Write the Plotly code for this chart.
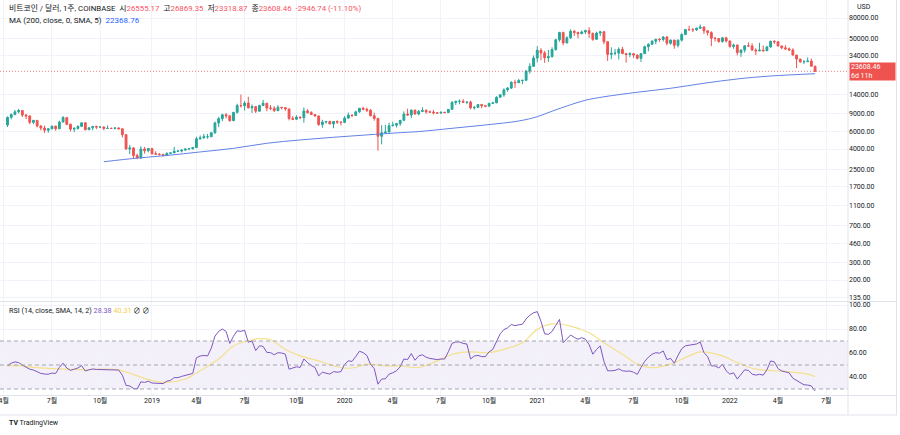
import math
import pandas as pd
import plotly.graph_objects as go

# ---------------- data (weekly, COINBASE BTC/USD) ----------------
first_week = "2018-04-09"

opens = [
    # 2018
    6920, 8250, 8800, 9350, 9650, 8700, 8530, 7360, 7700, 6770, 6450, 6150, 6350, 6750, 6360, 7400, 8200, 7030, 6300, 6400,
    6700, 7280, 6230, 6500, 6700, 6600, 6620, 6400, 6410, 6400, 6480, 6350, 5550, 4000, 4100, 3450, 3250, 4000, 3850,
    # 2019
    4050, 3590, 3550, 3540, 3450, 3620, 3660, 3800, 3820, 3900, 4000, 4030, 4130, 5050, 5150, 5300, 5300, 5800, 7250, 8000,
    8750, 8550, 7650, 9250, 10800, 10750, 11450, 10250, 10550, 9500, 10800, 11400, 10200, 10150, 9600, 10400, 10300, 10000, 8050, 7900,
    8300, 8200, 9550, 9200, 8800, 8500, 7000, 7400, 7500, 7100, 7500, 7400,
    # 2020
    7350, 8100, 8700, 8600, 9350, 10150, 9900, 9700, 8550, 8050, 5350, 5800, 5900, 6800, 6900, 7150, 7700, 8900, 8700, 9700,
    8900, 9450, 9650, 9350, 9300, 9150, 9080, 9250, 9200, 9900, 11600, 11900, 11900, 11650, 11700, 10250, 10350, 11080, 10750, 10650,
    11350, 11500, 13050, 13800, 15480, 16100, 18400, 18200, 19150, 19250, 23800, 26500,
    # 2021
    32000, 38200, 36000, 32200, 33100, 38900, 48600, 57500, 45200, 51000, 59000, 57400, 55800, 58200, 60000, 56200, 49100, 56700, 58300, 46500,
    34800, 35700, 35800, 39100, 35500, 34700, 35300, 34300, 31800, 35400, 41500, 43800, 47000, 49300, 48900, 51800, 44900, 48300, 42800, 48200,
    54700, 61500, 61300, 61100, 63300, 65000, 59700, 57300, 50400, 50100, 46700, 50800,
    # 2022
    47300, 41800, 43100, 36300, 38500, 42400, 42200, 38400, 37700, 38400, 37800, 41300, 46900, 46400, 42200, 40400, 39500, 38500, 34300, 31300,
    29400, 29450, 29900, 26555.17,
]

highs = [
    8420, 9030, 9760, 9990, 9690, 8880, 8560, 7780, 7770, 6890, 6830, 6460, 6800, 6800, 7650, 8500, 8250, 7150, 6600, 6900,
    7300, 7400, 6580, 6790, 6810, 6680, 6700, 6850, 6520, 6550, 6550, 6400, 5620, 4400, 4170, 3600, 4250, 4200, 4100,
    4100, 3800, 3640, 3560, 3700, 3720, 4200, 3900, 3950, 4050, 4080, 4150, 5300, 5450, 5650, 5650, 5900, 7500, 8350, 8950,
    9100, 8600, 9300, 11250, 13880, 12000, 13200, 11100, 10650, 11000, 12300, 11450, 10950, 10650, 10900, 10450, 10350, 10000, 8500, 8650,
    8400, 10350, 9950, 9500, 8900, 8600, 7800, 7600, 7650, 7520, 7700, 7550,
    8500, 9200, 8750, 9600, 10150, 10500, 10300, 9950, 9200, 8150, 6900, 6950, 7300, 7450, 7250, 7750, 9450, 10050, 9950, 9900,
    9750, 10400, 9950, 9650, 9750, 9300, 9450, 9350, 9950, 12000, 12050, 12450, 12500, 11750, 12100, 10700, 11150, 11100, 10950, 11500,
    11750, 13350, 14050, 15970, 16500, 18800, 19500, 19900, 19400, 24300, 28400, 34000,
    42000, 40100, 37800, 38500, 40950, 49700, 58300, 58400, 52600, 61800, 60900, 58500, 60000, 61200, 64900, 57500, 58500, 59600, 59600, 46600,
    40900, 39500, 40900, 41300, 35700, 36600, 35900, 34700, 35500, 42600, 44800, 48100, 49400, 50500, 52900, 52900, 48800, 48400, 49000, 56500,
    62000, 67000, 63700, 64300, 69000, 66300, 59900, 59100, 51900, 50400, 52000, 52100,
    47600, 44500, 43500, 38900, 42700, 45800, 44800, 40000, 45400, 42600, 42300, 47700, 48200, 47400, 42400, 42900, 40800, 40000, 34400, 31400,
    30600, 32400, 31600, 26869.35,
]

lows = [
    6620, 7870, 8650, 9030, 8300, 7920, 7050, 7060, 6550, 6120, 5760, 5800, 6250, 6070, 6300, 7400, 6900, 5970, 5880, 6250,
    6680, 6120, 6170, 6150, 6300, 6450, 6150, 6380, 6360, 6260, 6270, 5200, 3950, 3550, 3250, 3200, 3200, 3600, 3700,
    3520, 3520, 3440, 3370, 3400, 3560, 3650, 3740, 3700, 3850, 3900, 3950, 4100, 4950, 5100, 5050, 5250, 5650, 6600, 7550,
    8050, 7450, 7550, 9000, 10350, 9650, 10100, 9100, 9100, 9400, 10800, 9500, 9750, 9350, 9600, 9900, 9600, 7700, 7750, 7800,
    7900, 7300, 9000, 8700, 8400, 6800, 6500, 7150, 7050, 6430, 7100, 6850,
    7300, 8050, 8280, 8550, 9150, 9700, 9300, 8450, 7650, 3850, 4450, 5700, 5850, 6750, 6550, 6800, 7650, 8500, 8100, 8800,
    8650, 9300, 8950, 9200, 8850, 8950, 9050, 9050, 9150, 9900, 10950, 11100, 11500, 11150, 9900, 9850, 10250, 10150, 10400, 10550,
    11250, 11400, 12950, 13200, 14800, 15800, 16200, 18100, 17600, 19000, 22400, 26100,
    29000, 30400, 28700, 29200, 32300, 37900, 46500, 43000, 44900, 49300, 53100, 50300, 55500, 55500, 50600, 47500, 48800, 53000, 43900, 30000,
    31100, 34100, 31000, 34900, 28800, 32700, 32100, 31000, 29300, 35300, 37300, 43500, 43900, 46400, 46800, 42800, 43400, 39600, 40800, 46900,
    54300, 59700, 58000, 59400, 62300, 55600, 53500, 42000, 46700, 45500, 45600, 45700,
    40500, 39600, 34000, 32900, 36300, 41700, 38000, 34300, 37500, 37200, 37600, 40500, 44200, 41900, 39200, 38500, 37600, 33800, 25400, 28600,
    28000, 29300, 26500, 23318.87,
]

closes = [
    8250, 8800, 9350, 9650, 8700, 8530, 7360, 7700, 6770, 6450, 6150, 6350, 6750, 6360, 7400, 8200, 7030, 6300, 6400, 6700,
    7280, 6230, 6500, 6700, 6600, 6620, 6400, 6410, 6400, 6480, 6350, 5550, 4000, 4100, 3450, 3250, 4000, 3850, 4050,
    3590, 3550, 3540, 3450, 3620, 3660, 3800, 3820, 3900, 4000, 4030, 4130, 5050, 5150, 5300, 5300, 5800, 7250, 8000, 8750,
    8550, 7650, 9250, 10800, 10750, 11450, 10250, 10550, 9500, 10800, 11400, 10200, 10150, 9600, 10400, 10300, 10000, 8050, 7900, 8300,
    8200, 9550, 9200, 8800, 8500, 7000, 7400, 7500, 7100, 7500, 7400, 7350,
    8100, 8700, 8600, 9350, 10150, 9900, 9700, 8550, 8050, 5350, 5800, 5900, 6800, 6900, 7150, 7700, 8900, 8700, 9700, 8900,
    9450, 9650, 9350, 9300, 9150, 9080, 9250, 9200, 9900, 11600, 11900, 11900, 11650, 11700, 10250, 10350, 11080, 10750, 10650, 11350,
    11500, 13050, 13800, 15480, 16100, 18400, 18200, 19150, 19250, 23800, 26500, 32000,
    38200, 36000, 32200, 33100, 38900, 48600, 57500, 45200, 51000, 59000, 57400, 55800, 58200, 60000, 56200, 49100, 56700, 58300, 46500, 34800,
    35700, 35800, 39100, 35500, 34700, 35300, 34300, 31800, 35400, 41500, 43800, 47000, 49300, 48900, 51800, 44900, 48300, 42800, 48200, 54700,
    61500, 61300, 61100, 63300, 65000, 59700, 57300, 50400, 50100, 46700, 50800, 47300,
    41800, 43100, 36300, 38500, 42400, 42200, 38400, 37700, 38400, 37800, 41300, 46900, 46400, 42200, 40400, 39500, 38500, 34300, 31300, 29400,
    29450, 29900, 26555.17, 23608.46,
]
change_text = "-2946.74 (-11.10%)"

# MA(200) read at selected weeks (index into weekly bars)
ma200_week = [26, 35, 43, 52, 61, 70, 79, 88, 97, 106, 111, 120, 129, 138, 143, 147, 152, 156, 161, 170, 179, 188, 197, 206, 218]
ma200_val = [2990, 3250, 3450, 3740, 4060, 4560, 4920, 5230, 5520, 5810, 5960, 6420, 6930, 7590, 8370, 9500, 11000, 12200,
             13200, 14640, 16040, 17980, 19840, 21230, 22368.76]

# RSI(14) weekly values
rsi = [
    49.5, 51.5, 52.6, 52, 50, 48.5, 46.5, 45.8, 44.5, 43, 42.5, 42.3, 43.3, 43, 48, 51.5, 47.5, 45.5, 46.5, 47.5,
    49.5, 45, 46, 46.7, 46.3, 46.2, 45.8, 46, 46, 46, 45.8, 41.5, 33, 32.5, 30.5, 30, 36, 35.5, 36.5,
    35, 35, 35, 34.5, 36.5, 37.2, 39.5, 39.5, 40.5, 41.5, 42, 43, 56, 57.5, 58, 57.5, 64, 74, 78, 80,
    78, 68, 74, 78.5, 78, 79, 69, 70, 62, 66, 65.5, 60.5, 60.3, 58.5, 60.3, 60, 59, 46.5, 47.5, 48.5,
    48, 55, 52, 49.5, 48, 41, 44, 43.5, 42.4, 44.5, 44, 44.5,
    50.5, 53.5, 53, 57, 61.5, 60.3, 58, 50.5, 47, 34, 38.3, 38.5, 42.4, 43.5, 45.2, 48.5, 55, 54.5, 59.5, 54,
    57.6, 58.5, 56.5, 55.5, 55, 54.5, 55, 55, 61, 68, 69.2, 69.2, 68, 67.5, 55, 57.5, 58, 57, 57, 61,
    63, 70, 76, 79.5, 81, 83.8, 82.8, 83.5, 84, 88.5, 91.5, 93.5,
    94.5, 86.5, 76, 75.5, 78, 83, 88, 68.6, 71.5, 75, 73, 71.4, 72.8, 71.5, 67, 59, 63, 65.9, 53, 45.2,
    45.2, 45.5, 46.8, 45.2, 44.8, 45, 44, 42.2, 47.9, 53, 56.5, 59, 60.3, 59.8, 61.7, 54.5, 55.5, 51.5, 58, 63.5,
    66, 66.5, 66.8, 67.5, 69.2, 60.3, 57, 49.3, 49.3, 47.5, 50.7, 45.2,
    42.4, 43.5, 38.3, 42, 46, 45.5, 42.4, 41.6, 42.2, 41.6, 46, 53.4, 52.6, 47, 45, 44.3, 43.5, 39, 37, 35,
    33.5, 33.3, 32.5, 28.38,
]

# RSI-based MA read at selected weeks
rsi_ma_week = [0, 3, 7, 12, 16, 21, 25, 30, 34, 39, 43, 48, 52, 57, 61, 65, 68, 71, 75, 79, 84, 88, 91, 94, 97, 102,
               106, 111, 116, 120, 125, 130, 134, 139, 143, 147, 152, 157, 161, 166, 170, 173, 175, 179, 184, 187, 193,
               197, 202, 207, 211, 216, 218]
rsi_ma_val = [49.3, 49.5, 48, 47, 46.5, 46, 46.5, 46, 42, 37, 35.5, 38.3, 45.2, 55, 65.9, 70, 72, 71, 63, 57.6, 53.4,
              49.3, 47.4, 47.9, 50.7, 49.3, 49.3, 47.9, 53.4, 59, 60.9, 60.3, 63.1, 68.6, 79.7, 84.3, 82.4, 76.9, 68.6,
              59, 50.7, 48, 47.9, 50.7, 57.6, 60.9, 57.6, 52.1, 46.5, 45.2, 44.3, 42.4, 40.31]

price_ticks = [135, 200, 300, 460, 700, 1100, 1700, 2500, 4000, 6000, 9000, 14000, 34000, 50000, 80000]
rsi_ticks = [40, 60, 80, 100]
time_ticks = ["2018-04-02", "2018-07-02", "2018-10-01", "2019-01-07", "2019-04-01", "2019-07-01", "2019-10-07",
              "2020-01-06", "2020-04-06", "2020-07-06", "2020-10-05", "2021-01-04", "2021-04-05", "2021-07-05",
              "2021-10-04", "2022-01-03", "2022-04-04", "2022-07-04"]
time_labels = ["4월", "7월", "10월", "2019", "4월", "7월", "10월", "2020", "4월", "7월", "10월", "2021",
               "4월", "7월", "10월", "2022", "4월", "7월"]

# ---------------- figure ----------------
UP, DOWN = "#26a69a", "#ef5350"
GRID = "#f0f3fa"
BORDER = "#e0e3eb"
TXT = "#131722"
dates = pd.date_range(first_week, periods=len(closes), freq="7D")
x_range = ["2018-03-25 19:00", "2022-08-14 05:00"]
y_range = [2.0927, 5.0818]
main_dom = [0.238, 1.0]
rsi_dom = [0.0, 0.2354]
rsi_range = [25, 102.5]

fig = go.Figure()
fig.add_trace(go.Candlestick(
    x=dates, open=opens, high=highs, low=lows, close=closes,
    increasing=dict(line=dict(color=UP, width=1), fillcolor=UP),
    decreasing=dict(line=dict(color=DOWN, width=1), fillcolor=DOWN),
    whiskerwidth=0, xaxis="x", yaxis="y", showlegend=False, hoverinfo="skip"))

fig.add_trace(go.Scatter(
    x=dates[ma200_week], y=ma200_val, mode="lines", line=dict(color="#6282e6", width=1, shape="spline"),
    xaxis="x", yaxis="y", hoverinfo="skip"))

# last price dotted line
fig.add_trace(go.Scatter(
    x=x_range, y=[closes[-1], closes[-1]], mode="lines",
    line=dict(color=DOWN, width=1, dash="1px,2px"), opacity=0.7, xaxis="x", yaxis="y", hoverinfo="skip"))

fig.add_trace(go.Scatter(
    x=dates[rsi_ma_week], y=rsi_ma_val, mode="lines", line=dict(color="#f4e08e", width=1.2, shape="spline"),
    xaxis="x2", yaxis="y2", hoverinfo="skip"))
fig.add_trace(go.Scatter(
    x=dates, y=rsi, mode="lines", line=dict(color="#7e57c2", width=1),
    xaxis="x2", yaxis="y2", hoverinfo="skip"))

shapes = []
# RSI band and levels
shapes.append(dict(type="rect", xref="x2 domain", yref="y2", x0=0, x1=1, y0=30, y1=70,
                   fillcolor="rgba(126,87,194,0.09)", line=dict(width=0), layer="below"))
for lvl in (70, 50, 30):
    shapes.append(dict(type="line", xref="x2 domain", yref="y2", x0=0, x1=1, y0=lvl, y1=lvl,
                       line=dict(color="#a3a6af", width=1, dash="4px,3px")))
# pane separators and borders (paper coords)
W, H = 848.0, 395.0
def px_x(p):
    return p / W
def px_y(p):
    return (H - p) / H
shapes.append(dict(type="line", xref="paper", yref="paper", x0=0, x1=px_x(897), y0=px_y(301.5), y1=px_y(301.5),
                   line=dict(color=BORDER, width=1)))
shapes.append(dict(type="line", xref="paper", yref="paper", x0=1, x1=1, y0=px_y(0), y1=px_y(415),
                   line=dict(color=BORDER, width=1)))
shapes.append(dict(type="line", xref="paper", yref="paper", x0=px_x(896.5), x1=px_x(896.5), y0=px_y(0), y1=px_y(415),
                   line=dict(color=BORDER, width=1)))
shapes.append(dict(type="line", xref="paper", yref="paper", x0=0, x1=px_x(897), y0=px_y(395.5), y1=px_y(395.5),
                   line=dict(color=BORDER, width=1)))
shapes.append(dict(type="line", xref="paper", yref="paper", x0=0, x1=px_x(897), y0=px_y(415), y1=px_y(415),
                   line=dict(color=BORDER, width=1)))

red = "#f7525f"
SP = "\u00a0 "
def r(s):
    return f'<span style="color:{red}">{s}</span>'
header1 = (f"비트코인 / 달러, 1주, COINBASE{SP}시{r(f'{opens[-1]:.2f}')}{SP}고{r(f'{highs[-1]:.2f}')}{SP}"
           f"저{r(f'{lows[-1]:.2f}')}{SP}종{r(f'{closes[-1]:.2f}')}{SP}{r(change_text)}")
header2 = f'MA (200, close, 0, SMA, 5){SP}<span style="color:#2962ff">{ma200_val[-1]:.2f}</span>'
rsi_head = (f'RSI (14, close, SMA, 14, 2) <span style="color:#7e57c2">{rsi[-1]:.2f}</span> '
            f'<span style="color:#f5d04c">{rsi_ma_val[-1]:.2f}</span> ∅ ∅')

last_log = math.log10(closes[-1])
last_paper = main_dom[0] + (last_log - y_range[0]) / (y_range[1] - y_range[0]) * (main_dom[1] - main_dom[0])

FONT = 'Roboto, "Noto Sans CJK KR", sans-serif'
annotations = [
    dict(xref="paper", yref="paper", x=px_x(7), y=px_y(8), xanchor="left", yanchor="middle", showarrow=False,
         text=header1, font=dict(size=7.85, color=TXT, family=FONT)),
    dict(xref="paper", yref="paper", x=px_x(7), y=px_y(20), xanchor="left", yanchor="middle", showarrow=False,
         text=header2, font=dict(size=8.0, color=TXT, family=FONT)),
    dict(xref="paper", yref="paper", x=px_x(7), y=px_y(310), xanchor="left", yanchor="middle", showarrow=False,
         text=rsi_head, font=dict(size=7.2, color=TXT, family=FONT)),
    dict(xref="paper", yref="paper", x=px_x(855), y=px_y(7), xanchor="left", yanchor="middle", showarrow=False,
         text="USD", font=dict(size=7, color=TXT, family=FONT)),
    dict(xref="paper", yref="paper", x=px_x(849), y=last_paper, xanchor="left", yanchor="middle", showarrow=False,
         text=f"{closes[-1]:.2f}<br>6d 11h", align="left", bgcolor=DOWN, width=43, height=15, borderpad=1,
         font=dict(size=7, color="white", family=FONT)),
    dict(xref="paper", yref="paper", x=px_x(7), y=px_y(423), xanchor="left", yanchor="middle", showarrow=False,
         text="<b>TV</b> TradingView", font=dict(size=7, color=TXT, family=FONT)),
]

fig.update_layout(
    width=900, height=435, margin=dict(l=0, r=52, t=0, b=40, autoexpand=False),
    paper_bgcolor="white", plot_bgcolor="white", showlegend=False,
    font=dict(family=FONT, size=7, color=TXT),
    xaxis=dict(domain=[0, 1], anchor="y", type="date", range=x_range, tickvals=time_ticks, ticktext=time_labels,
               showticklabels=False, showgrid=True, gridcolor=GRID, gridwidth=1, zeroline=False, showline=False,
               ticks="", rangeslider=dict(visible=False), automargin=False),
    xaxis2=dict(domain=[0, 1], anchor="y2", type="date", range=x_range, tickvals=time_ticks, ticktext=time_labels,
                showgrid=True, gridcolor=GRID, gridwidth=1, zeroline=False, showline=False, ticks="",
                tickfont=dict(size=7, color=TXT), rangeslider=dict(visible=False), automargin=False,
                ticklabeloverflow="allow"),
    yaxis=dict(domain=main_dom, anchor="x", type="log", range=y_range, side="right", tickvals=price_ticks,
               ticktext=[f"{v:.2f}" for v in price_ticks], showgrid=True, gridcolor=GRID, zeroline=False,
               showline=False, ticks="", tickfont=dict(size=7, color=TXT), automargin=False),
    yaxis2=dict(domain=rsi_dom, anchor="x2", range=rsi_range, side="right", tickvals=rsi_ticks,
                ticktext=[f"{v:.2f}" for v in rsi_ticks], showgrid=True, gridcolor=GRID, zeroline=False,
                showline=False, ticks="", tickfont=dict(size=7, color=TXT), automargin=False),
    shapes=shapes, annotations=annotations,
)

fig.write_html("out.html", config={"displayModeBar": False, "staticPlot": True},
               post_script="document.body.style.margin='0';document.body.style.overflow='hidden';")
